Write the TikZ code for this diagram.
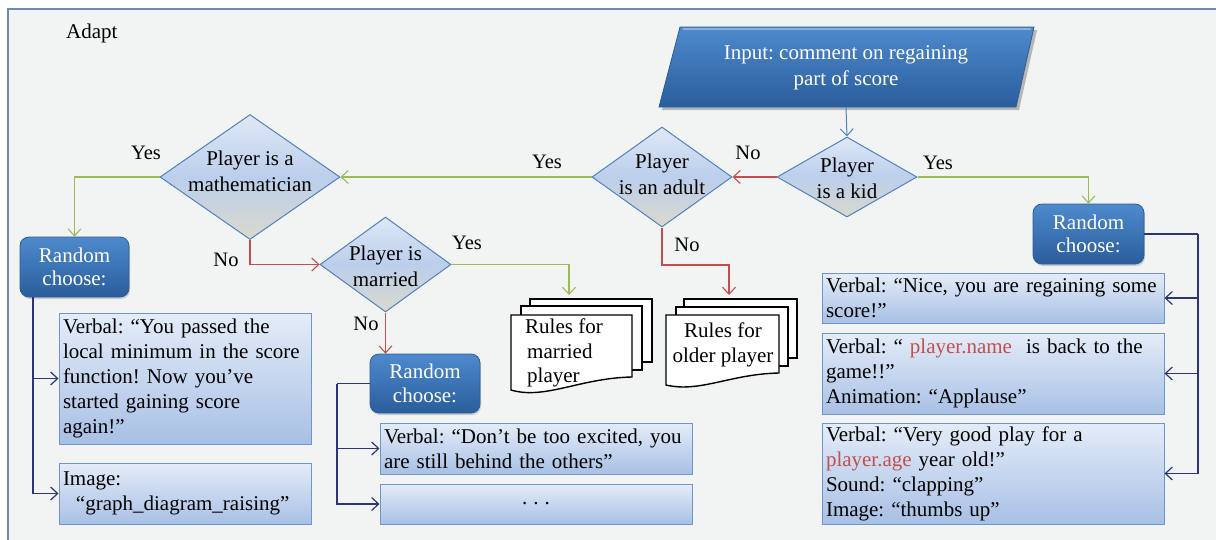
\documentclass[tikz,border=0pt]{standalone}
\usepackage{fontspec}
\setmainfont{Liberation Serif}
\usetikzlibrary{shapes.geometric,arrows.meta,shadows}
\definecolor{bgc}{HTML}{F2F4F4}
\definecolor{framec}{HTML}{7088AA}
\definecolor{ygreen}{HTML}{9BBB59}
\definecolor{nred}{HTML}{C0504D}
\definecolor{dblue}{HTML}{4F81BD}
\definecolor{navy}{HTML}{2B3577}
\definecolor{boxtop}{HTML}{E4ECF8}
\definecolor{boxbot}{HTML}{A8C0E5}
\definecolor{boxedge}{HTML}{6F95CE}
\definecolor{diatop}{HTML}{DFE8F6}
\definecolor{diamid}{HTML}{BBCEEB}
\definecolor{diabot}{HTML}{DAD9CD}
\definecolor{rtop}{HTML}{4E8ACD}
\definecolor{rbot}{HTML}{2A5D9C}
\definecolor{vred}{HTML}{C0504D}
\tikzset{
  every node/.style={font=\fontsize{21}{25}\selectfont, inner sep=0pt},
  dia/.style={diamond, draw=dblue, line width=1pt, top color=diatop, bottom color=diabot, middle color=diamid},
  dtext/.style={align=center, font=\fontsize{21}{26}\selectfont},
  rbox/.style={rounded corners=9pt, draw=rbot, line width=0.8pt, top color=rtop, bottom color=rbot, text=white, align=center,
    font=\fontsize{21}{23.5}\selectfont, drop shadow={shadow xshift=1pt,shadow yshift=-2pt,opacity=.35}},
  tbox/.style={draw=boxedge, line width=1pt, top color=boxtop, bottom color=boxbot, align=left, inner xsep=4pt},
  lbl/.style={font=\fontsize{20.5}{24}\selectfont},
  tip/.style={-{Straight Barb[length=7pt,width=13pt]}},
  yesarr/.style={tip, draw=ygreen, line width=1.1pt},
  noarr/.style={tip, draw=nred, line width=1.1pt},
  bluearr/.style={tip, draw=dblue, line width=1pt},
  navyline/.style={draw=navy, line width=1.2pt},
  navyarr/.style={tip, navyline},
  docline/.style={draw=black, line width=1.4pt, fill=white},
}
\begin{document}
\frenchspacing
\begin{tikzpicture}[x=1pt,y=-1pt]
\useasboundingbox (0,0) rectangle (1216,539);
\draw[framec, line width=1.5pt, fill=bgc] (8,9) rectangle (1240,560);

\node[anchor=west] (adapt) at (66,33) {Adapt};

% input parallelogram
\fill[black, opacity=0.25] (683,30) -- (1037,30) -- (1019,110) -- (662,110) -- cycle;
\shade[top color=rtop, bottom color=rbot, draw=rbot, line width=0.8pt] (680,27) -- (1034,27) -- (1016,107) -- (659,107) -- cycle;
\draw[white, opacity=0.35, line width=2pt] (683,29) -- (1031,29);
\node[align=center, text=white, font=\fontsize{21}{26}\selectfont] (input) at (846,68) {Input: comment on regaining\\part of score};
\coordinate (inbot) at (846,107);

% diamonds
\node[dia, minimum width=140pt, minimum height=80pt] (kid) at (847,177) {};
\node[dtext] (kidT) at (847,178) {Player\\is a kid};
\node[dia, minimum width=140pt, minimum height=100pt] (adult) at (662,177) {};
\node[dtext] (adultT) at (662,174) {Player\\is an adult};
\node[dia, minimum width=180pt, minimum height=125pt] (math) at (250,177) {};
\node[dtext] (mathT) at (250,171) {Player is a\\mathematician};
\node[dia, minimum width=131pt, minimum height=95pt] (married) at (385.5,264.5) {};
\node[dtext] (marriedT) at (385.5,266) {Player is\\married};

% random boxes
\node[rbox, minimum width=109pt, minimum height=60pt] (rl) at (74.5,267) {Random\\choose:};
\node[rbox, minimum width=110pt, minimum height=59pt] (rm) at (425,383.5) {Random\\choose:};
\node[rbox, minimum width=111pt, minimum height=60pt] (rr) at (1088.5,234) {Random\\choose:};

% text boxes
\node[tbox, text width=244pt, minimum height=131pt] (lverb) at (185,378.5)
  {Verbal: “You passed the\\local minimum in the score\\function! Now you’ve\\started gaining score\\again!”};
\node[tbox, text width=244pt, minimum height=61pt] (limg) at (185,493.5)
  {Image:\\\hspace*{13pt}“graph\_diagram\_raising”};
\node[tbox, text width=304pt, minimum height=51pt] (mverb) at (536,448.5)
  {Verbal: “Don’t be too excited, you\\are still behind the others”};
\node[tbox, text width=304pt, minimum height=40pt, align=center] (mdots) at (536,504) {.\hspace{6pt}.\hspace{6pt}.};
\node[tbox, text width=334pt, minimum height=50pt] (rv1) at (993,298)
  {Verbal: “Nice, you are regaining some\\score!”};
\node[tbox, text width=334pt, minimum height=81pt] (rv2) at (993,373.5)
  {Verbal: “ \textcolor{vred}{player.name}~ is back to the\\game!!”\\Animation: “Applause”};
\node[tbox, text width=334pt, minimum height=101pt] (rv3) at (993,473.5)
  {Verbal: “Very good play for a\\\textcolor{vred}{player.age} year old!”\\Sound: “clapping”\\Image: “thumbs up”};

% document stacks
\filldraw[docline] (530,299) rectangle (652,362);
\filldraw[docline] (521,306) rectangle (642,370);
\filldraw[docline] (511,315) -- (632,315) -- (632,377) .. controls (580,378) and (545,400) .. (511,390) -- cycle;
\node[align=left, anchor=west, font=\fontsize{21}{24.5}\selectfont] (mT) at (525,353) {Rules for\\\hspace*{2pt}married\\\hspace*{2pt}player};
\filldraw[docline] (684,299) rectangle (797,358);
\filldraw[docline] (676,307) rectangle (788,366);
\filldraw[docline] (666,315) -- (779,315) -- (779,373) .. controls (730,374) and (700,393) .. (666,385) -- cycle;
\node[align=center, font=\fontsize{21}{24.5}\selectfont] (oT) at (723,345) {Rules for\\older player};
\coordinate (mtop) at (569,295);
\coordinate (otop) at (729,295);

% connectors
\draw[bluearr] (inbot) -- (kid.north);
\draw[yesarr] (kid.east) -| (rr.north);
\draw[noarr] (kid.west) -- (adult.east);
\draw[yesarr] (adult.west) -- (math.east);
\coordinate (ajoin) at (662,265);
\draw[noarr] (adult.south) -- (ajoin) -| (otop);
\draw[yesarr] (math.west) -| (rl.north);
\draw[noarr] (math.south) |- (married.west);
\draw[yesarr] (married.east) -| (mtop);
\draw[noarr] (married.south) -- (married.south |- rm.north);

% labels
\node[lbl] (y1) at (146,153) {Yes};
\node[lbl] (n1) at (226,260) {No};
\node[lbl] (y2) at (547,162) {Yes};
\node[lbl] (n2) at (748,153) {No};
\node[lbl] (y3) at (938,163) {Yes};
\node[lbl] (n3) at (687,245) {No};
\node[lbl] (y4) at (467,243) {Yes};
\node[lbl] (n4) at (366,324) {No};

% navy connectors
\coordinate (lbus) at (33,297);
\draw[navyarr] (lbus) |- (limg.west);
\draw[navyarr] (lbus |- lverb.west) -- (lverb.west);
\coordinate (mbus) at (337,383.5);
\draw[navyline] (rm.west) -- (mbus);
\draw[navyarr] (mbus) |- (mdots.west);
\draw[navyarr] (mbus |- mverb.west) -- (mverb.west);
\coordinate (rbus) at (1198,234);
\draw[navyline] (rr.east) -- (rbus);
\draw[navyarr] (rbus) |- (rv3.east);
\draw[navyarr] (rbus |- rv1.east) -- (rv1.east);
\draw[navyarr] (rbus |- rv2.east) -- (rv2.east);
\end{tikzpicture}
\end{document}
